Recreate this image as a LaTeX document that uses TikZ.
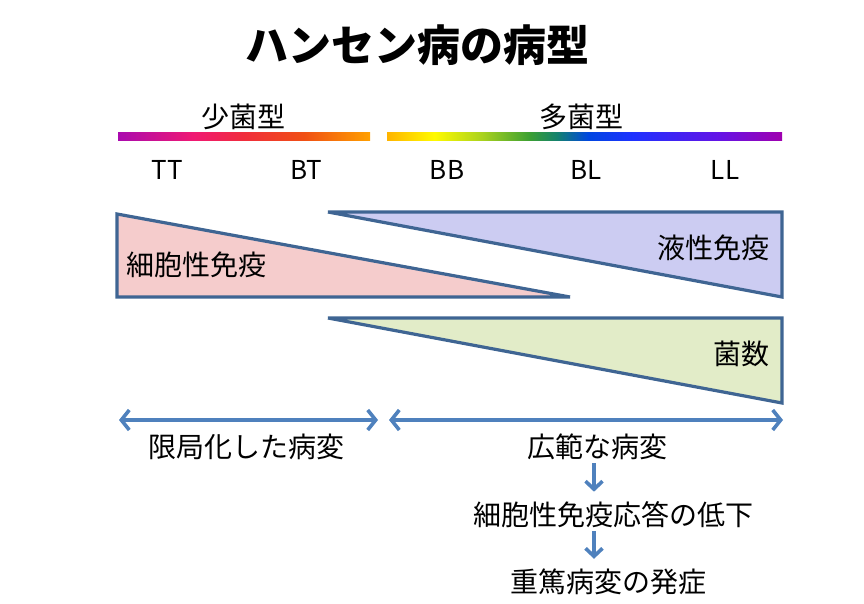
\documentclass[tikz,border=0pt]{standalone}
\usepackage{fontspec}
\setmainfont{Noto Sans CJK JP}
\usetikzlibrary{arrows.meta}
\definecolor{edge}{HTML}{3F6593}
\definecolor{arr}{HTML}{4F81BD}
\definecolor{pinkf}{HTML}{F5CCCC}
\definecolor{bluef}{HTML}{CCCCF2}
\definecolor{greenf}{HTML}{E2ECC8}
\pgfdeclarehorizontalshading{fewbar}{100bp}{color(0bp)=(rgb,255:red,170;green,10;blue,175); color(25bp)=(rgb,255:red,170;green,10;blue,175); color(40bp)=(rgb,255:red,240;green,25;blue,115); color(50bp)=(rgb,255:red,240;green,45;blue,60); color(62bp)=(rgb,255:red,240;green,80;blue,20); color(75bp)=(rgb,255:red,255;green,160;blue,0); color(100bp)=(rgb,255:red,255;green,160;blue,0)}
\pgfdeclarehorizontalshading{manybar}{100bp}{color(0bp)=(rgb,255:red,255;green,180;blue,0); color(25bp)=(rgb,255:red,255;green,180;blue,0); color(31bp)=(rgb,255:red,255;green,250;blue,0); color(37bp)=(rgb,255:red,170;green,210;blue,30); color(43bp)=(rgb,255:red,60;green,160;blue,50); color(46.5bp)=(rgb,255:red,20;green,130;blue,110); color(50.5bp)=(rgb,255:red,0;green,70;blue,225); color(56bp)=(rgb,255:red,30;green,50;blue,255); color(67bp)=(rgb,255:red,100;green,20;blue,230); color(75bp)=(rgb,255:red,160;green,0;blue,175); color(100bp)=(rgb,255:red,160;green,0;blue,175)}
\tikzset{
  tri/.style={draw=edge, line width=3.2pt, line join=miter},
  lbl/.style={inner sep=0pt, font=\fontsize{28}{30}\selectfont},
  cls/.style={inner sep=0pt, font=\fontsize{26}{28}\selectfont},
  dbl/.style={arr, line width=3.6pt, {Straight Barb[length=8pt,width=20pt]}-{Straight Barb[length=8pt,width=20pt]}},
  down/.style={arr, line width=3.6pt, -{Straight Barb[length=8pt,width=17pt]}},
}
\begin{document}
\begin{tikzpicture}[x=1pt,y=-1pt]
\path[use as bounding box] (0,0) rectangle (864,604);
\node[inner sep=0pt, font=\fontsize{43}{46}\selectfont\bfseries] (title) at (417,45) {ハンセン病の病型};
\node[lbl] (few) at (243,117) {少菌型};
\node[lbl] (many) at (581,117) {多菌型};
\shade[shading=fewbar] (118,133) rectangle (370,141);
\shade[shading=manybar] (387,133) rectangle (782,141);
\node[cls] (tt) at (167,170) {TT};
\node[cls] (bt) at (306,170) {BT};
\node[cls] (bb) at (447,170) {BB};
\node[cls] (bl) at (586,170) {BL};
\node[cls] (ll) at (725,170) {LL};
\path[tri, fill=pinkf] (117,214) -- (570,297) -- (117,297) -- cycle;
\path[tri, fill=bluef] (328,212) -- (782,212) -- (782,297) -- cycle;
\path[tri, fill=greenf] (328,318) -- (782,318) -- (782,403) -- cycle;
\node[lbl, anchor=west] (cell) at (126,265) {細胞性免疫};
\node[lbl, anchor=east] (humoral) at (770,248) {液性免疫};
\node[lbl, anchor=east] (count) at (770,354) {菌数};
\coordinate (la) at (119,420);
\coordinate (lb) at (378,420);
\coordinate (ra) at (389,420);
\coordinate (rb) at (783,420);
\draw[dbl] (la) -- (lb);
\draw[dbl] (ra) -- (rb);
\node[lbl] (local) at (246,447) {限局化した病変};
\node[lbl] (wide) at (597,447) {広範な病変};
\node[lbl] (low) at (613,515) {細胞性免疫応答の低下};
\node[lbl] (sev) at (608,582) {重篤病変の発症};
\draw[down] ([xshift=-3pt,yshift=-3pt]wide.south) -- ([xshift=-19pt,yshift=10pt]low.north);
\draw[down] ([xshift=-19pt,yshift=-3pt]low.south) -- ([xshift=-14pt,yshift=10pt]sev.north);
\end{tikzpicture}
\end{document}
